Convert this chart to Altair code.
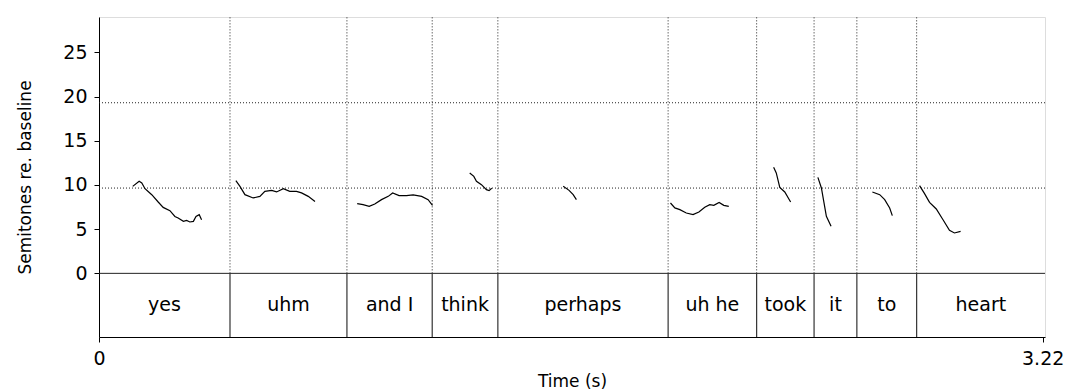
import altair as alt
import pandas as pd

# Word tier: boundaries (s) and labels
bounds = [0.0, 0.447, 0.846, 1.137, 1.361, 1.942, 2.244, 2.440, 2.586, 2.790, 3.228]
words = ["yes", "uhm", "and I", "think", "perhaps", "uh he", "took", "it", "to", "heart"]

# Pitch contours, semitones re. baseline, one list per word
yes_t = [0.115, 0.137, 0.146, 0.157, 0.180, 0.202, 0.219, 0.242, 0.259, 0.270, 0.288, 0.299, 0.310, 0.322, 0.331, 0.342, 0.350]
yes_v = [9.84, 10.41, 10.23, 9.58, 8.90, 8.07, 7.46, 7.09, 6.44, 6.26, 5.88, 5.99, 5.81, 5.88, 6.44, 6.64, 6.07]
uhm_t = [0.467, 0.481, 0.498, 0.526, 0.549, 0.566, 0.589, 0.606, 0.629, 0.651, 0.674, 0.691, 0.714, 0.737]
uhm_v = [10.49, 9.84, 8.90, 8.53, 8.71, 9.28, 9.39, 9.21, 9.58, 9.28, 9.28, 9.10, 8.71, 8.14]
andi_t = [0.881, 0.901, 0.922, 0.941, 0.964, 0.987, 1.002, 1.024, 1.049, 1.072, 1.101, 1.123, 1.138]
andi_v = [7.88, 7.77, 7.58, 7.85, 8.34, 8.71, 9.10, 8.79, 8.79, 8.87, 8.71, 8.34, 7.69]
think_t = [1.265, 1.279, 1.288, 1.305, 1.322, 1.331, 1.340]
think_v = [11.36, 10.97, 10.41, 10.03, 9.47, 9.36, 9.62]
perhaps_t = [1.584, 1.604, 1.618, 1.629]
perhaps_v = [9.84, 9.39, 8.90, 8.34]
uhhe_t = [1.950, 1.965, 1.982, 2.004, 2.027, 2.047, 2.067, 2.084, 2.098, 2.116, 2.132, 2.149]
uhhe_v = [7.96, 7.40, 7.21, 6.83, 6.64, 6.94, 7.47, 7.77, 7.69, 8.03, 7.69, 7.58]
took_t = [2.302, 2.311, 2.323, 2.340, 2.360]
took_v = [11.99, 11.36, 9.73, 9.21, 8.07]
it_t = [2.453, 2.465, 2.482, 2.498]
it_v = [10.86, 9.66, 6.45, 5.32]
to_t = [2.639, 2.664, 2.681, 2.698, 2.707]
to_v = [9.21, 8.90, 8.34, 7.40, 6.53]
heart_t = [2.800, 2.817, 2.834, 2.857, 2.880, 2.902, 2.919, 2.940]
heart_v = [9.92, 9.02, 8.03, 7.28, 6.07, 4.86, 4.57, 4.75]

ref_levels = [9.65, 19.3]
y_ticks = [0, 5, 10, 15, 20, 25]
x_ticks = [0, 3.22]
Y_LO, Y_HI = -7.2, 29.0
FONT = "DejaVu Sans"

contours = [yes_t, uhm_t, andi_t, think_t, perhaps_t, uhhe_t, took_t, it_t, to_t, heart_t]
values = [yes_v, uhm_v, andi_v, think_v, perhaps_v, uhhe_v, took_v, it_v, to_v, heart_v]
rows = []
for i, (ts, vs) in enumerate(zip(contours, values)):
    for j, (t, v) in enumerate(zip(ts, vs)):
        rows.append({"seg": i, "order": j, "t": t, "v": v})
pitch = pd.DataFrame(rows)

inner = bounds[1:-1]
edges = pd.DataFrame({"t": inner, "lo": [0.0] * len(inner), "hi": [Y_HI] * len(inner),
                      "tier_lo": [Y_LO] * len(inner)})
labels = pd.DataFrame({"word": words,
                       "mid": [(a + b) / 2 for a, b in zip(bounds[:-1], bounds[1:])],
                       "y": [Y_LO / 2] * len(words)})
levels = pd.DataFrame({"v": ref_levels})

xs = alt.Scale(domain=[0, bounds[-1]], nice=False, zero=False)
ys = alt.Scale(domain=[Y_LO, Y_HI], nice=False, zero=False)

x_axis = alt.Axis(values=x_ticks, format=".2~f", title="Time (s)", grid=False,
                  tickSize=5, labelPadding=7, labelFontSize=19, labelFlush=False,
                  titleFontSize=17, titleY=44, titleBaseline="middle",
                  labelFont=FONT, titleFont=FONT, titleFontWeight="normal",
                  domainColor="black", tickColor="black", labelColor="black", titleColor="black")
y_axis = alt.Axis(values=y_ticks, title="Semitones re. baseline", grid=False,
                  tickSize=5, labelPadding=7, labelFontSize=19, titleFontSize=17,
                  labelFont=FONT, titleFont=FONT, titleFontWeight="normal", titlePadding=28,
                  domainColor="black", tickColor="black", labelColor="black", titleColor="black")

base_x = alt.X("t:Q", scale=xs, axis=x_axis)

hlines = alt.Chart(levels).mark_rule(color="#222", strokeDash=[1, 2], strokeWidth=1).encode(
    y=alt.Y("v:Q", scale=ys, axis=y_axis)
)
zero_line = alt.Chart(pd.DataFrame({"v": [0.0]})).mark_rule(color="#222", strokeWidth=1).encode(
    y=alt.Y("v:Q", scale=ys)
)
vdots = alt.Chart(edges).mark_rule(color="#222", strokeDash=[1, 2], strokeWidth=1).encode(
    x=base_x, y=alt.Y("lo:Q", scale=ys), y2="hi:Q"
)
vtier = alt.Chart(edges).mark_rule(color="#333", strokeWidth=1.2).encode(
    x=alt.X("t:Q", scale=xs), y=alt.Y("tier_lo:Q", scale=ys), y2="lo:Q"
)
text = alt.Chart(labels).mark_text(font=FONT, fontSize=19, color="black",
                                   baseline="middle", align="center").encode(
    x=alt.X("mid:Q", scale=xs), y=alt.Y("y:Q", scale=ys), text="word:N"
)
lines = alt.Chart(pitch).mark_line(color="black", strokeWidth=1.2).encode(
    x=alt.X("t:Q", scale=xs), y=alt.Y("v:Q", scale=ys), detail="seg:N", order="order:Q"
)

chart = alt.layer(hlines, zero_line, vdots, vtier, text, lines).properties(
    width=946, height=320,
    autosize=alt.AutoSizeParams(type="none"),
    padding={"left": 99, "top": 17, "right": 21, "bottom": 53},
).configure_view(stroke="black", strokeWidth=1).configure(background="white")

chart.save("out.html", embed_options={"renderer": "svg", "actions": False})
